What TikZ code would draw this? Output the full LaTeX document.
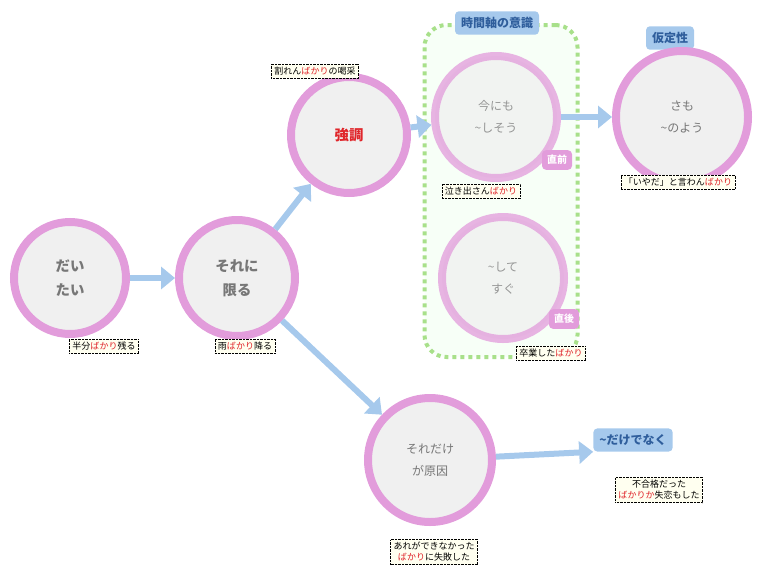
\documentclass[tikz,border=0pt]{standalone}
\usepackage{fontspec}
\setmainfont{Noto Sans CJK JP}
\usepackage{tikz}
\usetikzlibrary{arrows.meta}
\definecolor{ring}{HTML}{E29CDB}
\definecolor{pale}{HTML}{F0F0F0}
\definecolor{sky}{HTML}{A6C9EC}
\definecolor{navy}{HTML}{2F5E9C}
\definecolor{ink}{HTML}{777777}
\definecolor{baka}{HTML}{E0262B}
\definecolor{cream}{HTML}{FFFFF0}
\definecolor{leaf}{HTML}{A8E08A}
\newcommand{\bk}[1]{\textcolor{baka}{#1}}

\begin{document}
\begin{tikzpicture}[x=1pt,y=-1pt,
    word/.style={shape=circle,draw=ring,line width=8pt,fill=pale,text=ink,
        font=\Large\bfseries,align=center,inner sep=0pt},
    tag/.style={fill=sky,text=navy,rounded corners=4pt,font=\large\bfseries,
        inner sep=6pt},
    badge/.style={fill=ring,text=white,rounded corners=4pt,font=\bfseries,inner sep=5pt},
    usage/.style={draw=black,densely dotted,fill=cream,font=\small,align=center,
        inner sep=3pt},
    flow/.style={draw=sky,line width=6pt,-{Triangle[length=14pt,width=22pt]}}]
	\useasboundingbox (0,0) rectangle (768,581);
	% time-axis group
	\node[draw=leaf,line width=4pt,dash pattern=on 4pt off 4pt,fill=green!3,
	    rounded corners=22pt,minimum width=153pt,minimum height=332pt] (grp) at (501,191) {};
	\node[tag] (ttime) at (497,23) {時間軸の意識};
	\node[tag] (tkatei) at (670,38) {仮定性};
	\node[tag] (tdake) at (633,440) {\textasciitilde だけでなく};
	% words
	\node[word,minimum size=112pt] (daitai) at (70,278)  {だい\\[6pt]たい};
	\node[word,minimum size=116pt] (soreni) at (237,278) {それに\\[6pt]限る};
	\node[word,minimum size=116pt,text=baka] (kyou) at (349,135) {強調};
	\node[word,minimum size=122pt,opacity=0.75,font=\large] (imani) at (496,117) {今にも\\[8pt]\textasciitilde しそう};
	\node[word,minimum size=122pt,opacity=0.75,font=\large] (sugu) at (503,278) {\textasciitilde して\\[8pt]すぐ};
	\node[word,minimum size=132pt,font=\large] (samo) at (682,117) {さも\\[8pt]\textasciitilde のよう};
	\node[word,minimum size=124pt,font=\large] (dake) at (430,460) {それだけ\\[8pt]が原因};
	\node[badge] (choku) at (557,160) {直前};
	\node[badge] (chokugo) at (564,319) {直後};
	% usages
	\node[usage] (u1) at (315,71)  {割れん\bk{ばかり}の喝采};
	\node[usage] (u2) at (481,191) {泣き出さん\bk{ばかり}};
	\node[usage] (u3) at (678,182) {「いやだ」と言わん\bk{ばかり}};
	\node[usage] (u4) at (551,353) {卒業した\bk{ばかり}};
	\node[usage] (u5) at (104,346) {半分\bk{ばかり}残る};
	\node[usage] (u6) at (245,346) {雨\bk{ばかり}降る};
	\node[usage] (u7) at (659,490) {不合格だった\\\bk{ばかりか}失恋もした};
	\node[usage] (u8) at (434,552) {あれができなかった\\\bk{ばかり}に失敗した};
	% arrows
	\path[flow] (daitai) -- (soreni);
	\path[flow] (soreni) -- (kyou);
	\path[flow] (soreni) -- (dake);
	\path[flow] (kyou) -- (imani);
	\path[flow] (imani) -- (samo);
	\path[flow] (dake) -- (tdake.south west);
\end{tikzpicture}
\end{document}
